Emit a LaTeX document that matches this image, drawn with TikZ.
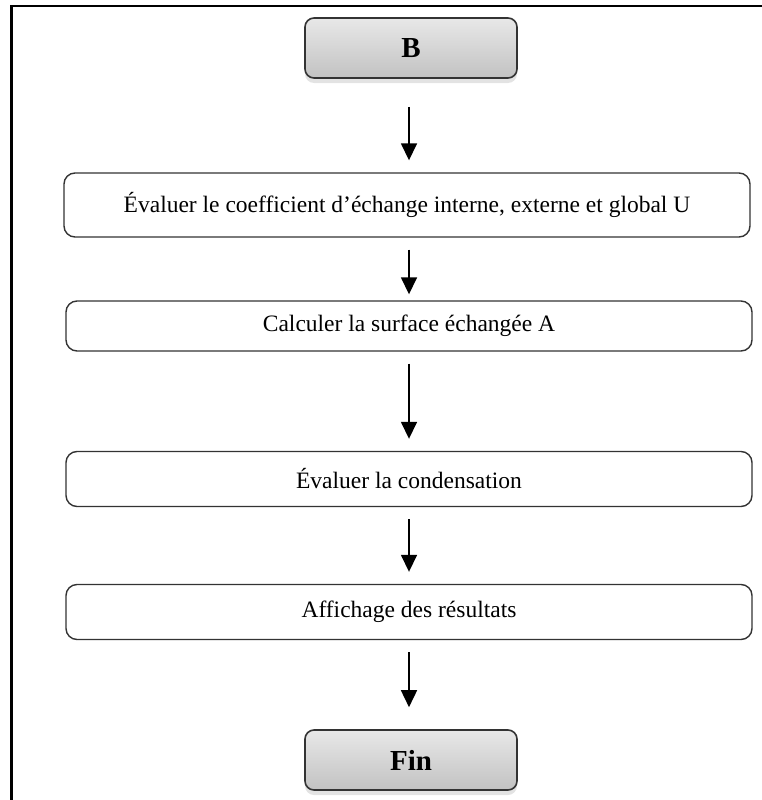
\documentclass[tikz,border=0pt]{standalone}
\usepackage{fontspec}
\setmainfont{Liberation Serif}
\usetikzlibrary{arrows.meta,shadows}
\definecolor{edge}{HTML}{333333}
\definecolor{topgray}{HTML}{E8E8E8}
\definecolor{botgray}{HTML}{C2C2C2}
\tikzset{
  x=1pt, y=-1pt,
  term/.style={draw=edge, line width=1.6pt, rounded corners=9pt,
    top color=topgray, bottom color=botgray,
    minimum width=212pt, minimum height=60pt,
    font=\fontsize{29}{32}\selectfont\bfseries,
    drop shadow={opacity=0.22, shadow xshift=0pt, shadow yshift=-5pt}},
  stepbox/.style={draw=edge, line width=1.4pt, rounded corners=11pt, fill=white,
    minimum width=686pt, font=\fontsize{23.5}{27}\selectfont},
  flow/.style={line width=1.6pt, -{Triangle[width=16pt,length=17pt]}},
}
\begin{document}
\begin{tikzpicture}
\useasboundingbox (0,0) rectangle (762,800);
% frame lines
\draw[line width=2.6pt] (11.5,820) -- (11.5,6) -- (780,6);

% terminal and process boxes
\node[term] (b) at (411,48) {B};
\node[stepbox, minimum height=64pt] (s1) at (407,205)
  {Évaluer le coefficient d’échange interne, externe et global U};
\node[stepbox, minimum height=50pt] (s2) at (409,326) {Calculer la surface échangée A};
\node[stepbox, minimum height=55pt] (s3) at (409,479) {Évaluer la condensation};
\node[stepbox, minimum height=55pt] (s4) at (409,612) {Affichage des résultats};
\node[term] (fin) at (411,760) {Fin};

% connectors
\draw[flow] ([yshift=-28pt]b.south -| 409,0) -- ([yshift=12pt]s1.north -| 409,0);
\draw[flow] ([yshift=-12pt]s1.south -| 409,0) -- ([yshift=6pt]s2.north -| 409,0);
\draw[flow] ([yshift=-12pt]s2.south -| 409,0) -- ([yshift=12pt]s3.north -| 409,0);
\draw[flow] ([yshift=-12pt]s3.south -| 409,0) -- ([yshift=12pt]s4.north -| 409,0);
\draw[flow] ([yshift=-12pt]s4.south -| 409,0) -- ([yshift=22pt]fin.north -| 409,0);
\end{tikzpicture}
\end{document}
